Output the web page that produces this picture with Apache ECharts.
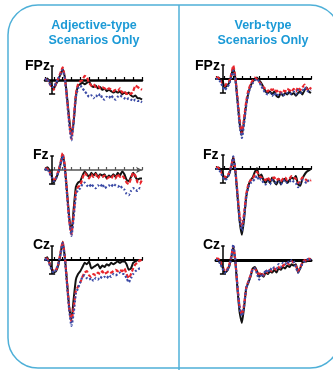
<!DOCTYPE html>
<html><head><meta charset="utf-8">
<script src="https://cdn.jsdelivr.net/npm/echarts@6/dist/echarts.min.js"></script>
<style>html,body{margin:0;padding:0;background:#fff}#c{width:333px;height:370px}</style>
</head><body><div id="c"></div>
<script>
// time points (ms)
const times = [-100,-75,-50,-25,0,25,50,75,100,125,150,175,200,225,250,275,300,325,350,375,400,425,450,475,500,525,550,575,600,625,650,675,700,725,750,775,800,825,850,875,900,925,950,975,1000];

const panelTitles = ['Adjective-type\nScenarios Only', 'Verb-type\nScenarios Only'];
const electrodes = ['FPz', 'Fz', 'Cz'];

// Adjective-type, FPz
const adjFPzSolid = [0,0.5,-0.5,-2,-3,-1.5,0,2,3.8,1,-6,-14,-20,-15,-6,-2,-1.5,-1,-1.5,-1,-0.5,-2,-2.5,-2,-3,-2.5,-3.5,-3,-4,-3.5,-4,-4.5,-4,-4.5,-4,-5,-4.5,-5,-4.5,-5.5,-6,-5.5,-6.5,-6.5,-7];
const adjFPzDashed = [0.5,0,-1,-2.5,-3.5,-1,0.5,2.5,4.5,1,-7,-15,-21,-14,-5,-1.5,-0.5,0,1.5,1,-1,-2,-1.5,-2.5,-2,-3,-2.5,-3,-3.5,-3,-3.5,-4,-3.5,-4,-3,-4.5,-4,-5,-4.5,-5,-4,-2,-2.5,-3,-3.5];
const adjFPzDotted = [0,0.5,-1,-2.5,-2.5,-1,0.5,2,3.5,0.5,-7,-16,-21.5,-15,-6,-3,-2,-3,-4,-5,-6,-5.5,-6.5,-5.5,-6,-5,-6.5,-7,-6,-6.5,-5.5,-6.5,-7,-6,-5.5,-6,-6.5,-7,-6.5,-7,-7.5,-7,-7.5,-7.5,-8];
// Adjective-type, Fz
const adjFzSolid = [0,1,0,-2,-4.5,-3,-1,2,5.5,1,-8,-17,-22.5,-14,-6,-4.5,-4,-2,-0.5,-1.5,-2.5,-1,-2,-1,-2.5,-1.5,-2,-1.5,-3,-2,-2.5,-1.5,-2.5,-1,-2,-0.5,-1.5,-3.5,-4,-2.5,-1,-2.5,-3.5,-3,-3];
const adjFzDashed = [0.5,0.5,-0.5,-2.5,-4,-2.5,-0.5,2.5,6,1.5,-8,-18,-23,-16,-8,-6,-5.5,-3,-1,-2,-3,-1.5,-2.5,-1.5,-3,-2,-2.5,-2,-3,-2.5,-3,-2,-3,-1.5,-2.5,-2,-3,-4.5,-5,-3,-1,-2,-4.5,-5,-3.5];
const adjFzDotted = [0,0.5,-1,-2.5,-4,-3,-1,2,5,0.5,-9,-18,-23.5,-17,-9,-7,-6.5,-5,-4.5,-5.5,-6,-5,-6,-6.5,-5.5,-6,-5,-6.5,-6,-5.5,-6,-5,-5.5,-6,-5.5,-6.5,-7,-8.5,-9,-7.5,-6.5,-7,-7.5,-6.5,-7];
// Adjective-type, Cz
const adjCzSolid = [0.5,1,-1,-3,-4.5,-4,-2,2,6.4,1,-8,-17,-21.4,-14,-7,-5,-4,-2.5,-1,-1.5,-0.5,-3,-2.5,-2,-1.5,-3,-2,-2.5,-1.5,-2,-1,-1.5,-1,-0.5,-1,-0.5,-0.5,-1.5,-3.5,-3,-1,-0.5,0,0,0];
const adjCzDashed = [0.5,0.5,-1,-3,-4,-3.5,-1.5,2.5,6.5,1.5,-8,-17,-22,-17,-11,-9.5,-8,-6,-4.5,-4,-5.5,-6,-5,-5.5,-4.5,-5,-4,-5,-4.5,-4,-4.5,-4,-3.5,-4,-3.5,-4,-3,-5,-6.5,-5,-3,-1.5,-1,0,-0.5];
const adjCzDotted = [0,0.5,-1.5,-3.5,-4.5,-3.5,-1.5,2,6,0.5,-9,-18,-23.5,-19,-12,-10,-8,-6,-5.5,-6.5,-7,-6.5,-7.5,-6.5,-7,-6,-6.5,-6,-6.5,-5.5,-6,-5,-5.5,-5,-4.5,-5,-5,-6.5,-8,-6.5,-5,-4,-3.5,-3,-3];
// Verb-type, FPz
const verbFPzSolid = [0,0.5,0,-0.5,-3,-2.5,-1.5,1,3.8,0,-8,-16,-20,-15,-9,-5,-2.5,-1,0,0.5,-0.5,-1.5,-3,-4.5,-5,-4.5,-5.5,-4.5,-6,-6.5,-5,-6,-5,-5.5,-4.5,-5.5,-5,-6,-5,-4.5,-5.5,-4,-3,-4.5,-5];
const verbFPzDashed = [0.5,0.5,-0.5,-1.5,-2.5,-1.5,-1,1.5,4.8,0.5,-7,-15,-19.5,-14,-8,-4,-2,-0.5,0.5,0,-1,-2,-3,-3.5,-4.5,-3.5,-4,-3.5,-4.5,-4,-5,-4,-4.5,-3.5,-4,-4.5,-3.5,-4.5,-3,-4,-3,-2,-3.5,-4,-3];
const verbFPzDotted = [0,0,-1,-2.5,-4,-3,-2,0.5,3,-0.5,-8.5,-17,-21,-16,-9.5,-5,-3,-1.5,-0.5,0,-1,-2.5,-4,-5,-5.5,-5,-6,-5,-6,-5.5,-5,-6,-5.5,-5,-5.5,-5,-4.5,-5.5,-4,-5,-4.5,-3,-4,-4.5,-4];
// Verb-type, Fz
const verbFzSolid = [0,0.5,0,-1.5,-3.5,-3,-2,0.5,4.3,-1,-10,-19,-23.5,-18,-10,-6,-4,-3,-1,0.3,-3,-2,-4,-5,-3.5,-5,-3,-4.5,-5.5,-3.5,-5.5,-4,-3.5,-5,-4,-3,-3.5,-2.5,-5.5,-6,-3.5,-2,-1,-0.5,0];
const verbFzDashed = [0.5,0.5,-0.5,-2,-3,-2.5,-1.5,1,4,-0.5,-9,-17,-20.5,-16,-9,-5.5,-4,-3.5,-2,-1,-2.5,-3,-3.5,-4,-3,-4,-3.5,-3,-4,-3.5,-4.5,-3.5,-3,-4,-3.5,-2.5,-3,-3.5,-5,-4.5,-3,-3.5,-4,-4.5,-4];
const verbFzDotted = [0,0,-1,-2.5,-4,-3.5,-2,0.5,4.5,-1,-10,-18.5,-22,-17,-10,-6.5,-5,-4.5,-3.5,-2.5,-4,-3.5,-5,-5.5,-4.5,-5.5,-4,-4.5,-5,-4.5,-5.5,-4.5,-4,-5,-4.5,-4,-4.5,-5,-6.5,-5,-4,-4.5,-5,-4,-3.5];
// Verb-type, Cz
const verbCzSolid = [0.5,0,-1,-2.5,-4.5,-4,-2.5,0.5,4.6,-1,-11,-19,-22.5,-17,-10,-8,-6,-3,-2.5,-4,-6,-5,-6,-4.5,-5,-4,-4.5,-3.5,-4.5,-3,-3.5,-2.5,-3,-2,-2.5,-1.5,-2,-1.5,-4.5,-3,-1,-0.5,-0.5,0,0.5];
const verbCzDashed = [0.5,0.5,-0.5,-2,-4,-3.5,-2,1,5,-0.5,-10,-17,-19.5,-16,-10,-7.5,-5.5,-3,-3,-4.5,-5,-4.5,-5.5,-4,-4.5,-3.5,-4,-3,-3.5,-2.5,-3,-2,-1.5,-1,-1.5,-0.5,-1,-2,-4,-2.5,-1,0,-0.5,0.5,0];
const verbCzDotted = [0,0,-1.5,-3,-4.5,-4,-2.5,0.5,5.5,-0.5,-10,-17.5,-20,-16.5,-10,-8,-5.5,-3.5,-3,-5,-7,-5,-5.5,-3.5,-4.5,-3,-3.5,-2.5,-3,-1.5,-2.5,-1,-1.5,-0.5,-1,0,-0.5,-2.5,-4.5,-3,-1.5,-0.5,0,0.5,0];

// scale bar (µV) and its time position (ms)
const scaleBarTop = 5, scaleBarBottom = -5, scaleBarTime = -20;

const panels = [
  {col:0,row:0,data:[adjFPzSolid,adjFPzDashed,adjFPzDotted]},
  {col:0,row:1,data:[adjFzSolid,adjFzDashed,adjFzDotted]},
  {col:0,row:2,data:[adjCzSolid,adjCzDashed,adjCzDotted]},
  {col:1,row:0,data:[verbFPzSolid,verbFPzDashed,verbFPzDotted]},
  {col:1,row:1,data:[verbFzSolid,verbFzDashed,verbFzDotted]},
  {col:1,row:2,data:[verbCzSolid,verbCzDashed,verbCzDotted]}
];

const PX = 2.8, YMIN = -24, YMAX = 7;
const baselines = [[80,170,260],[79,169,260]];
const lefts = [45,216], widths = [97,95];
const axisStyles = [
  [{w:2.5,c:'#000',tick:true,arrow:false},{w:1.5,c:'#555',tick:true,arrow:true},{w:2,c:'#000',tick:true,arrow:false}],
  [{w:2,c:'#000',tick:true,arrow:false},{w:2,c:'#000',tick:true,arrow:false},{w:3,c:'#000',tick:false,arrow:false}]
];
const colors = ['#111111','#e8252c','#3a4aa6'];
const lineTypes = ['solid',[4,2],[2,2]];
const lineWidths = [2,2.2,2.2];

const grid=[], xAxis=[], yAxis=[], series=[];
panels.forEach((p,i)=>{
  const base = baselines[p.col][p.row];
  const st = axisStyles[p.col][p.row];
  grid.push({left:lefts[p.col], width:widths[p.col], top: base - YMAX*PX, height:(YMAX-YMIN)*PX});
  xAxis.push({type:'value', gridIndex:i, min:-100, max:1000, interval:100,
    axisLine:{show:true, onZero:true, symbol: st.arrow?['none','arrow']:['none','none'], symbolSize:[5,6], lineStyle:{color:st.c,width:st.w}},
    axisTick:{show:st.tick, inside:true, length:3, lineStyle:{color:st.c,width:1.2}},
    axisLabel:{show:false}, splitLine:{show:false}});
  yAxis.push({type:'value', gridIndex:i, min:YMIN, max:YMAX, show:false, splitLine:{show:false}});
  p.data.forEach((vals,k)=>{
    const s = {type:'line', xAxisIndex:i, yAxisIndex:i, data: times.map((t,j)=>[t,vals[j]]),
      showSymbol:false, symbol:'none', smooth:0.15, z:3+k,
      lineStyle:{color:colors[k], width:lineWidths[k], type:lineTypes[k], cap:'butt'}};
    if(k===0){
      s.markLine = {silent:true, symbol:['none','none'], animation:false, label:{show:false},
        lineStyle:{color:'#000', width:1.5, type:'solid'},
        data:[
          [{coord:[scaleBarTime,scaleBarTop]},{coord:[scaleBarTime,scaleBarBottom]}],
          [{coord:[scaleBarTime-20,scaleBarTop]},{coord:[scaleBarTime+20,scaleBarTop]}],
          [{coord:[scaleBarTime-35,scaleBarBottom]},{coord:[scaleBarTime+35,scaleBarBottom]}]
        ]};
    }
    series.push(s);
  });
});

const labelPos = [[[25,66],[33,155],[33,245.5]],[[195,66],[203,155],[203,245.5]]];
const graphic = [
  {type:'rect', shape:{x:8,y:5,width:332,height:363,r:30}, style:{fill:'none',stroke:'#4fb0d8',lineWidth:1.5}, z:0},
  {type:'line', shape:{x1:179,y1:5,x2:179,y2:370}, style:{stroke:'#4fb0d8',lineWidth:1.5}, z:0},
  {type:'text', x:94, y:33, style:{text:panelTitles[0], fill:'#1c9ad6', font:'bold 12.5px "Liberation Sans", Arial, sans-serif', textAlign:'center', textVerticalAlign:'middle', lineHeight:15}},
  {type:'text', x:263, y:33, style:{text:panelTitles[1], fill:'#1c9ad6', font:'bold 12.5px "Liberation Sans", Arial, sans-serif', textAlign:'center', textVerticalAlign:'middle', lineHeight:15}}
];
for(let c=0;c<2;c++) for(let r=0;r<3;r++){
  graphic.push({type:'text', x:labelPos[c][r][0], y:labelPos[c][r][1], style:{text:electrodes[r], fill:'#000', font:'bold 14px "Liberation Sans", Arial, sans-serif', textAlign:'left', textVerticalAlign:'middle'}});
}

const chart = echarts.init(document.getElementById('c'), null, {renderer:'canvas'});
chart.setOption({animation:false, grid, xAxis, yAxis, series, graphic});
</script></body></html>
